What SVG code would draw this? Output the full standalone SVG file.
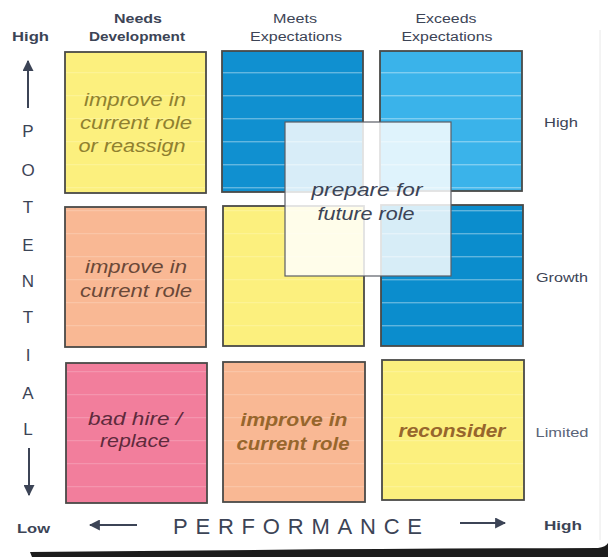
<svg xmlns="http://www.w3.org/2000/svg" width="608" height="557" viewBox="0 0 608 557">
  <defs>
    <style>
      .lbl { font-family: "Liberation Sans", Arial, sans-serif; fill: #3c4456; }
      .hdr { font-size: 12.5px; }
      .bold { font-weight: bold; }
      .axis { font-size: 17px; text-anchor: middle; }
      .cell { font-family: "Liberation Sans", Arial, sans-serif; font-style: italic; font-size: 19px; text-anchor: middle; }
      .box { stroke: #4a4a48; stroke-width: 1.8; }
      .arrow { stroke: #3c4456; stroke-width: 2; fill: none; }
    </style>
    <pattern id="scanlines" patternUnits="userSpaceOnUse" x="0" y="3" width="608" height="23">
      <rect x="0" y="0" width="608" height="1.4" fill="#ffffff" opacity="0.35"/>
    </pattern>
    <pattern id="scanlinesFaint" patternUnits="userSpaceOnUse" x="0" y="3" width="608" height="23">
      <rect x="0" y="0" width="608" height="1.2" fill="#ffffff" opacity="0.18"/>
    </pattern>
    <marker id="head" viewBox="0 0 10 10" refX="9" refY="5" markerWidth="5.5" markerHeight="5.5" orient="auto">
      <path d="M0,0 L10,5 L0,10 z" fill="#3c4456"/>
    </marker>
  </defs>

  <rect width="608" height="557" fill="#ffffff"/>
  <!-- faint page edge on the right -->
  <line x1="600" y1="30" x2="600" y2="540" stroke="#e8e8e8" stroke-width="1"/>

  <!-- column headers -->
  <g id="col-needs">
    <text class="lbl hdr bold" x="138" y="23" text-anchor="middle" textLength="48" lengthAdjust="spacingAndGlyphs">Needs</text>
    <text class="lbl hdr bold" x="137" y="41" text-anchor="middle" textLength="96" lengthAdjust="spacingAndGlyphs">Development</text>
  </g>
  <g id="col-meets">
    <text class="lbl hdr" x="295" y="23" text-anchor="middle" textLength="44" lengthAdjust="spacingAndGlyphs">Meets</text>
    <text class="lbl hdr" x="296" y="41" text-anchor="middle" textLength="92" lengthAdjust="spacingAndGlyphs">Expectations</text>
  </g>
  <g id="col-exceeds">
    <text class="lbl hdr" x="446" y="23" text-anchor="middle" textLength="61" lengthAdjust="spacingAndGlyphs">Exceeds</text>
    <text class="lbl hdr" x="447" y="41" text-anchor="middle" textLength="91" lengthAdjust="spacingAndGlyphs">Expectations</text>
  </g>

  <!-- row labels -->
  <g id="row-high"><text class="lbl" x="561" y="127" font-size="13" text-anchor="middle" textLength="34" lengthAdjust="spacingAndGlyphs">High</text></g>
  <g id="row-growth"><text class="lbl" x="562" y="282" font-size="13" text-anchor="middle" textLength="52" lengthAdjust="spacingAndGlyphs">Growth</text></g>
  <g id="row-limited"><text class="lbl" x="562" y="437" font-size="13" text-anchor="middle" style="fill:#5a6478" textLength="53" lengthAdjust="spacingAndGlyphs">Limited</text></g>

  <!-- grid cells -->
  <g id="cell-needs-high">
    <rect class="box" x="65" y="52" width="141" height="141" fill="#fcf07e"/>
    <rect x="66" y="53" width="139" height="139" fill="url(#scanlinesFaint)"/>
    <text class="cell" fill="#8f8030" x="135" y="106" textLength="102" lengthAdjust="spacingAndGlyphs">improve in</text>
    <text class="cell" fill="#8f8030" x="136" y="129" textLength="112" lengthAdjust="spacingAndGlyphs">current role</text>
    <text class="cell" fill="#8f8030" x="132" y="152" textLength="107" lengthAdjust="spacingAndGlyphs">or reassign</text>
  </g>
  <g id="cell-meets-high">
    <rect class="box" x="222" y="51" width="141" height="141" fill="#1090d0"/>
    <rect x="223" y="52" width="139" height="139" fill="url(#scanlines)"/>
  </g>
  <g id="cell-exceeds-high">
    <rect class="box" x="380" y="51" width="142" height="140" fill="#3ab3ea"/>
    <rect x="381" y="52" width="140" height="138" fill="url(#scanlines)"/>
  </g>

  <g id="cell-needs-growth">
    <rect class="box" x="65" y="207" width="141" height="140" fill="#f9b894"/>
    <rect x="66" y="208" width="139" height="138" fill="url(#scanlinesFaint)"/>
    <text class="cell" fill="#6a4838" x="136" y="273" textLength="102" lengthAdjust="spacingAndGlyphs">improve in</text>
    <text class="cell" fill="#6a4838" x="136" y="297" textLength="112" lengthAdjust="spacingAndGlyphs">current role</text>
  </g>
  <g id="cell-meets-growth">
    <rect class="box" x="223" y="206" width="141" height="140" fill="#fcf07e"/>
    <rect x="224" y="207" width="139" height="138" fill="url(#scanlinesFaint)"/>
  </g>
  <g id="cell-exceeds-growth">
    <rect class="box" x="381" y="205" width="142" height="141" fill="#0b8dcd"/>
    <rect x="382" y="206" width="140" height="139" fill="url(#scanlines)"/>
  </g>

  <g id="cell-needs-limited">
    <rect class="box" x="66" y="363" width="141" height="140" fill="#f27e9c"/>
    <rect x="67" y="364" width="139" height="138" fill="url(#scanlinesFaint)"/>
    <text class="cell" fill="#5e2a3c" x="135" y="425" textLength="94" lengthAdjust="spacingAndGlyphs">bad hire /</text>
    <text class="cell" fill="#5e2a3c" x="135" y="447" textLength="70" lengthAdjust="spacingAndGlyphs">replace</text>
  </g>
  <g id="cell-meets-limited">
    <rect class="box" x="223" y="362" width="142" height="140" fill="#f9b894"/>
    <rect x="224" y="363" width="140" height="138" fill="url(#scanlinesFaint)"/>
    <text class="cell bold" fill="#97662c" x="294" y="426" textLength="107" lengthAdjust="spacingAndGlyphs">improve in</text>
    <text class="cell bold" fill="#97662c" x="293" y="450" textLength="113" lengthAdjust="spacingAndGlyphs">current role</text>
  </g>
  <g id="cell-exceeds-limited">
    <rect class="box" x="382" y="360" width="142" height="140" fill="#fcf07e"/>
    <rect x="383" y="361" width="140" height="138" fill="url(#scanlinesFaint)"/>
    <text class="cell bold" fill="#97662c" x="452" y="437" textLength="107" lengthAdjust="spacingAndGlyphs">reconsider</text>
  </g>

  <!-- translucent overlay spanning the four central cells -->
  <g id="cell-future-role">
    <rect x="285" y="122" width="166" height="154" fill="#ffffff" fill-opacity="0.84" stroke="#5a5e66" stroke-width="1.2"/>
    <text class="cell" fill="#3c4456" x="367" y="196" textLength="111" lengthAdjust="spacingAndGlyphs">prepare for</text>
    <text class="cell" fill="#3c4456" x="366" y="220" textLength="97" lengthAdjust="spacingAndGlyphs">future role</text>
  </g>

  <!-- potential axis -->
  <g id="axis-potential">
    <text class="lbl bold" x="12" y="41" font-size="13" textLength="37" lengthAdjust="spacingAndGlyphs">High</text>
    <text class="lbl axis" x="28" y="137">P</text>
    <text class="lbl axis" x="28" y="176">O</text>
    <text class="lbl axis" x="28" y="213">T</text>
    <text class="lbl axis" x="28" y="251">E</text>
    <text class="lbl axis" x="28" y="287">N</text>
    <text class="lbl axis" x="28" y="323">T</text>
    <text class="lbl axis" x="28" y="361">I</text>
    <text class="lbl axis" x="28" y="399">A</text>
    <text class="lbl axis" x="28" y="435">L</text>
  </g>

  <!-- performance axis -->
  <g id="axis-performance">
    <text class="lbl bold" x="17" y="533" font-size="13" textLength="33" lengthAdjust="spacingAndGlyphs">Low</text>
    <text class="lbl" x="173" y="534" font-size="22" textLength="249" lengthAdjust="spacing">PERFORMANCE</text>
    <text class="lbl bold" x="544" y="530" font-size="13" textLength="38" lengthAdjust="spacingAndGlyphs">High</text>
  </g>

  <!-- axis arrows -->
  <g id="connectors">
    <line class="arrow" x1="28" y1="108" x2="28" y2="61" marker-end="url(#head)"/>
    <line class="arrow" x1="29" y1="448" x2="29" y2="495" marker-end="url(#head)"/>
    <line class="arrow" x1="137" y1="525" x2="90" y2="525" marker-end="url(#head)"/>
    <line class="arrow" x1="460" y1="523" x2="505" y2="523" marker-end="url(#head)"/>
  </g>

  <!-- dark page shadow along the bottom -->
  <path d="M30,552 Q300,549 598,548 Q606,547 608,543 L608,557 L32,557 Z" fill="#1c1c1c"/>
</svg>
